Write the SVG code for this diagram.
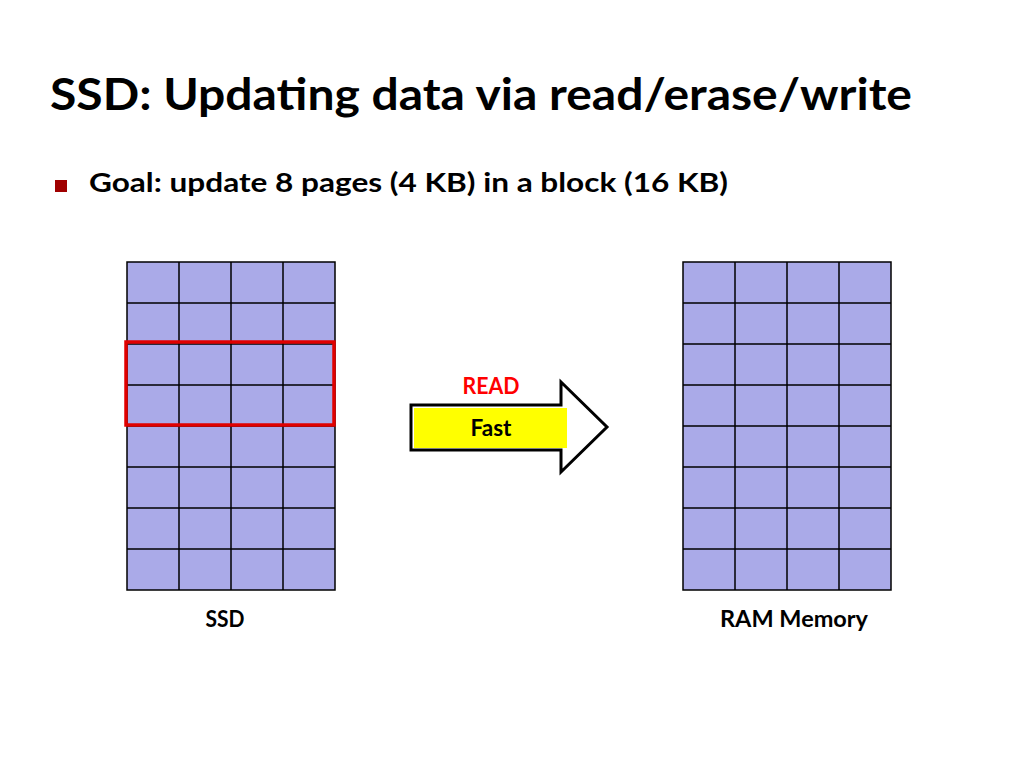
<svg xmlns="http://www.w3.org/2000/svg" width="1024" height="768" viewBox="0 0 1024 768">
<style>
.t{font-family:Lato,"Open Sans","Liberation Sans",sans-serif;font-weight:bold;fill:#000}
.lbl{font-family:Lato,"Open Sans","Liberation Sans",sans-serif;font-weight:bold;font-size:22px;text-anchor:middle;fill:#000}
</style>
<defs>
<g id="block">
<rect x="0" y="0" width="208" height="328" fill="#aaaae8" stroke="#000" stroke-width="1.5"/>
<path d="M52 0V328M104 0V328M156 0V328M0 41H208M0 82H208M0 123H208M0 164H208M0 205H208M0 246H208M0 287H208" stroke="#000" stroke-width="1.5" fill="none"/>
</g>
</defs>
<rect width="1024" height="768" fill="#fff"/>
<text class="t" x="50" y="110" font-size="44" textLength="862" lengthAdjust="spacingAndGlyphs">SSD: Updating data via read/erase/write</text>
<rect x="55" y="180" width="12" height="12" fill="#a00000"/>
<text class="t" x="89" y="192" font-size="26" textLength="639" lengthAdjust="spacingAndGlyphs">Goal: update 8 pages (4 KB) in a block (16 KB)</text>
<g id="ssd">
<use href="#block" x="127" y="262"/>
<rect x="126" y="342" width="208" height="83" fill="none" stroke="#e00000" stroke-width="3.5"/>
<text class="lbl" x="225" y="627" textLength="39" lengthAdjust="spacingAndGlyphs">SSD</text>
</g>
<g id="ram">
<use href="#block" x="683" y="262"/>
<text class="lbl" x="794" y="627" textLength="148" lengthAdjust="spacingAndGlyphs">RAM Memory</text>
</g>
<g id="connectors">
<g id="read-arrow">
<path d="M411 405H561V382L607 427L561 472V450H411Z" fill="#fff" stroke="#000" stroke-width="3" stroke-linejoin="miter"/>
<rect x="414" y="408" width="153" height="40" fill="#ffff00"/>
<text class="lbl" x="491" y="394" style="fill:#ff0000" textLength="57" lengthAdjust="spacingAndGlyphs">READ</text>
<text class="lbl" x="491" y="436" textLength="41" lengthAdjust="spacingAndGlyphs">Fast</text>
</g>
</g>
</svg>
